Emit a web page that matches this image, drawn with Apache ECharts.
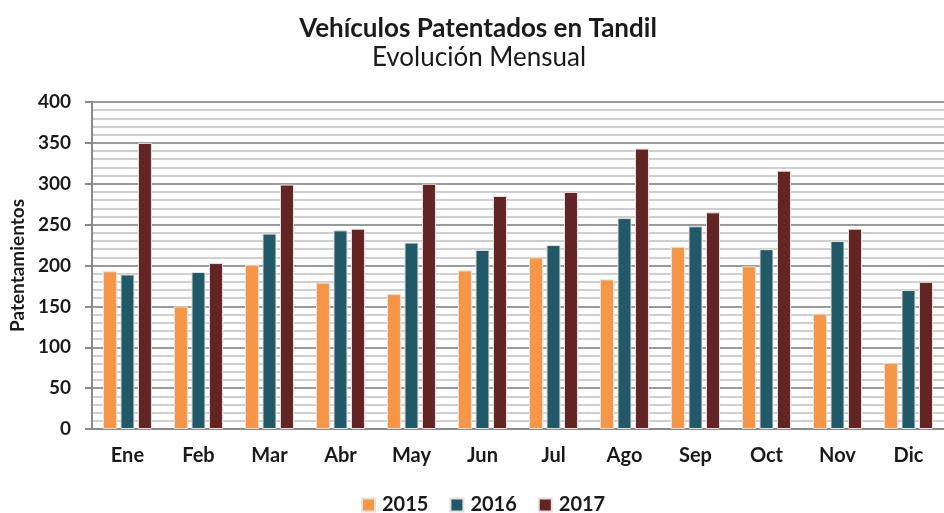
<!DOCTYPE html>
<html>
<head>
<meta charset="utf-8">
<script src="https://cdn.jsdelivr.net/npm/echarts@6/dist/echarts.min.js"></script>
<style>
  html, body { margin: 0; padding: 0; background: #fff; }
  #chart { width: 944px; height: 513px; }
</style>
</head>
<body>
<div id="chart"></div>
<script>
// months shown on the x axis
const months = ['Ene', 'Feb', 'Mar', 'Abr', 'May', 'Jun', 'Jul', 'Ago', 'Sep', 'Oct', 'Nov', 'Dic'];

// registrations per month
const y2015 = [193, 150, 201, 179, 165, 194, 210, 183, 223, 199, 141, 81];
const y2016 = [189, 192, 239, 243, 228, 219, 225, 258, 248, 220, 230, 170];
const y2017 = [350, 203, 299, 245, 300, 285, 290, 343, 265, 316, 245, 180];

const seriesNames = ['2015', '2016', '2017'];
const seriesColors = ['#f79646', '#215968', '#632523'];

const font = 'Lato, "Open Sans", sans-serif';

const chart = echarts.init(document.getElementById('chart'));

function barSeries(name, data, color) {
  return {
    name: name,
    type: 'bar',
    data: data,
    barWidth: 14,
    barGap: '25%',
    itemStyle: {
      color: color,
      borderColor: '#e6e0de',
      borderWidth: 1
    },
    animation: false
  };
}

const option = {
  backgroundColor: '#fff',
  textStyle: { fontFamily: font },
  title: [{
    text: 'Vehículos Patentados en Tandil',
    left: 473,
    top: 11,
    textAlign: 'center',
    textStyle: { fontFamily: font, fontSize: 26, fontWeight: 'bold', color: '#1a1a1a' }
  }, {
    text: 'Evolución Mensual',
    left: 474,
    top: 40,
    textAlign: 'center',
    textStyle: { fontFamily: font, fontSize: 26, fontWeight: 'normal', color: '#1a1a1a' }
  }],
  legend: {
    data: seriesNames,
    top: 490,
    left: 356,
    itemWidth: 13,
    itemHeight: 13,
    itemGap: 21,
    icon: 'rect',
    textStyle: { fontFamily: font, fontSize: 20, fontWeight: 'bold', color: '#1a1a1a', padding: [0, 0, 0, 2] }
  },
  grid: {
    left: 91,
    right: -13,
    top: 102,
    bottom: 84,
    containLabel: false
  },
  xAxis: {
    type: 'category',
    data: months,
    axisLine: { lineStyle: { color: '#8a8a8a', width: 2 } },
    axisTick: { show: false },
    axisLabel: {
      margin: 17,
      fontFamily: font,
      fontSize: 20,
      fontWeight: 'bold',
      color: '#1a1a1a'
    }
  },
  yAxis: {
    type: 'value',
    min: 0,
    max: 400,
    interval: 50,
    name: 'Patentamientos',
    nameLocation: 'middle',
    nameGap: 64,
    nameRotate: 90,
    nameTextStyle: { fontFamily: font, fontSize: 19, fontWeight: 'bold', color: '#1a1a1a' },
    axisLine: { show: true, lineStyle: { color: '#8a8a8a', width: 2 } },
    axisTick: { show: true, inside: false, length: 7, lineStyle: { color: '#8a8a8a', width: 2 } },
    axisLabel: {
      margin: 21,
      fontFamily: font,
      fontSize: 19,
      fontWeight: 'bold',
      color: '#1a1a1a'
    },
    splitLine: { show: true, lineStyle: { color: '#9a9a9a', width: 2 } },
    minorTick: { show: false, splitNumber: 5 },
    minorSplitLine: { show: true, lineStyle: { color: '#cfcfcf', width: 2 } }
  },
  series: [
    barSeries(seriesNames[0], y2015, seriesColors[0]),
    barSeries(seriesNames[1], y2016, seriesColors[1]),
    barSeries(seriesNames[2], y2017, seriesColors[2])
  ]
};

chart.setOption(option);
</script>
</body>
</html>
